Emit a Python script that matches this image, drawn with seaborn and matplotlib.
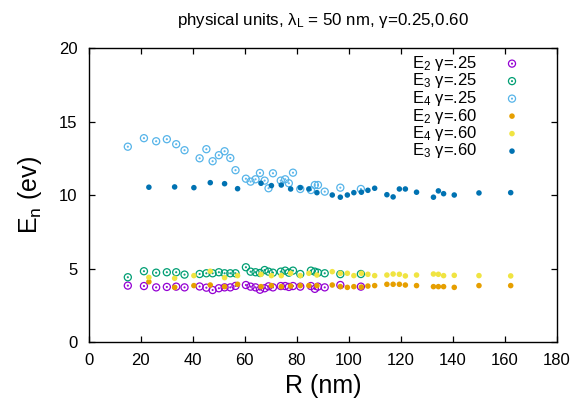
import matplotlib
matplotlib.use("Agg")
import matplotlib.pyplot as plt
import seaborn as sns
import pandas as pd
from matplotlib.path import Path

# ---------------- data ----------------
R_g25 = [15.0, 21.2, 25.9, 30.0, 33.6, 36.8, 42.6, 45.2, 47.6, 50.0, 52.2,
         54.4, 56.4, 60.4, 62.2, 64.1, 65.8, 67.6, 69.1, 70.8, 73.8, 75.5,
         76.9, 78.5, 81.3, 85.4, 86.9, 88.1, 90.7, 96.7, 104.6]
E2_g25 = [3.84, 3.81, 3.72, 3.75, 3.77, 3.72, 3.78, 3.70, 3.54, 3.66, 3.72,
          3.72, 3.82, 3.88, 3.77, 3.72, 3.56, 3.66, 3.79, 3.72, 3.81, 3.81,
          3.75, 3.81, 3.77, 3.81, 3.62, 3.77, 3.72, 3.88, 3.77]
E3_g25 = [4.41, 4.82, 4.72, 4.75, 4.75, 4.59, 4.63, 4.68, 4.68, 4.75, 4.68,
          4.68, 4.68, 5.09, 4.79, 4.75, 4.70, 4.90, 4.79, 4.72, 4.79, 4.86,
          4.72, 4.86, 4.63, 4.86, 4.79, 4.72, 4.68, 4.62, 4.63]
E4_g25 = [13.30, 13.88, 13.67, 13.81, 13.47, 13.06, 12.51, 13.13, 12.31,
          12.72, 12.99, 12.53, 11.70, 11.12, 10.92, 11.08, 11.51, 10.99,
          10.47, 11.49, 10.99, 11.08, 10.81, 11.53, 10.42, 10.35, 10.69,
          10.69, 10.24, 10.51, 10.42]

R_g60 = [23.1, 33.0, 40.4, 46.7, 52.2, 57.2, 66.2, 70.2, 74.0, 77.6, 81.3,
         84.6, 87.7, 93.6, 96.7, 99.4, 101.9, 104.8, 107.3, 109.9, 114.6,
         117.0, 119.4, 121.7, 126.0, 132.5, 134.4, 136.4, 140.5, 150.0, 162.2]
E2_g60 = [4.10, 3.72, 3.84, 3.88, 3.77, 3.93, 3.77, 3.84, 3.77, 3.81, 3.84,
          3.84, 3.84, 3.88, 3.77, 3.72, 3.77, 3.74, 3.81, 3.84, 3.93, 3.93,
          3.93, 3.88, 3.84, 3.77, 3.77, 3.77, 3.72, 3.84, 3.84]
E4_g60 = [4.40, 4.34, 4.52, 4.82, 4.38, 4.52, 4.61, 4.52, 4.52, 4.68, 4.52,
          4.68, 4.56, 4.79, 4.68, 4.68, 4.52, 4.68, 4.61, 4.52, 4.56, 4.63,
          4.61, 4.50, 4.56, 4.63, 4.61, 4.52, 4.54, 4.52, 4.50]
E3_g60 = [10.54, 10.56, 10.51, 10.85, 10.78, 10.44, 10.81, 10.65, 10.69,
          10.42, 10.51, 10.42, 10.17, 10.01, 9.86, 10.01, 10.17, 10.20,
          10.33, 10.47, 10.03, 9.88, 10.42, 10.42, 10.20, 9.86, 10.29,
          10.10, 10.01, 10.15, 10.17]

series_labels = [r"E$_2$ γ=.25", r"E$_3$ γ=.25", r"E$_4$ γ=.25",
                 r"E$_2$ γ=.60", r"E$_4$ γ=.60", r"E$_3$ γ=.60"]
series_colors = ["#9400D3", "#009E73", "#56B4E9",
                 "#E69F00", "#F0E442", "#0072B2"]

title_text = r"physical units, λ$_\mathrm{L}$ = 50 nm, γ=0.25,0.60"
xlabel_text = "R (nm)"
ylabel_text = r"E$_\mathrm{n}$ (ev)"
xticks = [0, 20, 40, 60, 80, 100, 120, 140, 160, 180]
yticks = [0, 5, 10, 15, 20]

# ---------------- style ----------------
sns.set_theme(style="ticks")
plt.rcParams["font.family"] = ["Liberation Sans", "DejaVu Sans"]
plt.rcParams["mathtext.fontset"] = "custom"
plt.rcParams["mathtext.rm"] = "Liberation Sans"
plt.rcParams["mathtext.it"] = "Liberation Sans:italic"
plt.rcParams["mathtext.sf"] = "Liberation Sans"
plt.rcParams["text.color"] = "black"
plt.rcParams["axes.labelcolor"] = "black"
plt.rcParams["xtick.color"] = "black"
plt.rcParams["ytick.color"] = "black"

fig = plt.figure(figsize=(5.83, 3.99), dpi=100)
ax = fig.add_axes([88.8 / 583, 1 - 342 / 399, (557 - 88.8) / 583, (342 - 48.3) / 399])

# open circle with a centre dot (gnuplot point type 6 look)
circ_dot = Path.make_compound_path(Path.unit_circle(), Path.circle((0, 0), 0.12))

data = [
    (R_g25, E2_g25, True),
    (R_g25, E3_g25, True),
    (R_g25, E4_g25, True),
    (R_g60, E2_g60, False),
    (R_g60, E4_g60, False),
    (R_g60, E3_g60, False),
]

for (xs, ys, hollow), lab, col in zip(data, series_labels, series_colors):
    df = pd.DataFrame({"R": xs, "E": ys})
    if hollow:
        sns.scatterplot(data=df, x="R", y="E", ax=ax, marker=circ_dot, s=26,
                        facecolors="none", edgecolor=col, linewidth=0.9,
                        label=lab, zorder=3)
    else:
        sns.scatterplot(data=df, x="R", y="E", ax=ax, marker="o", s=16,
                        color=col, edgecolor="none", linewidth=0,
                        label=lab, zorder=3)

ax.set_xlim(0, 180)
ax.set_ylim(0, 20)
ax.set_xticks(xticks)
ax.set_yticks(yticks)
ax.tick_params(direction="in", length=4.5, width=0.9, top=True, right=True,
               bottom=True, left=True, labelsize=12, pad=8)
for sp in ax.spines.values():
    sp.set_visible(True)
    sp.set_color("black")
    sp.set_linewidth(1.0)

ax.set_xlabel(xlabel_text, fontsize=18, labelpad=4)
ax.set_ylabel(ylabel_text, fontsize=18, labelpad=11)
ax.set_title(title_text, fontsize=12.2, pad=17)

leg = ax.legend(loc="upper right", bbox_to_anchor=(522 / 583, 1 - 54 / 399),
                bbox_transform=fig.transFigure, frameon=False,
                markerfirst=False, fontsize=12, labelspacing=-0.09,
                handlelength=1.2, handletextpad=1.5, borderpad=0,
                borderaxespad=0, scatterpoints=1)

fig.savefig("out.png", dpi=100)
